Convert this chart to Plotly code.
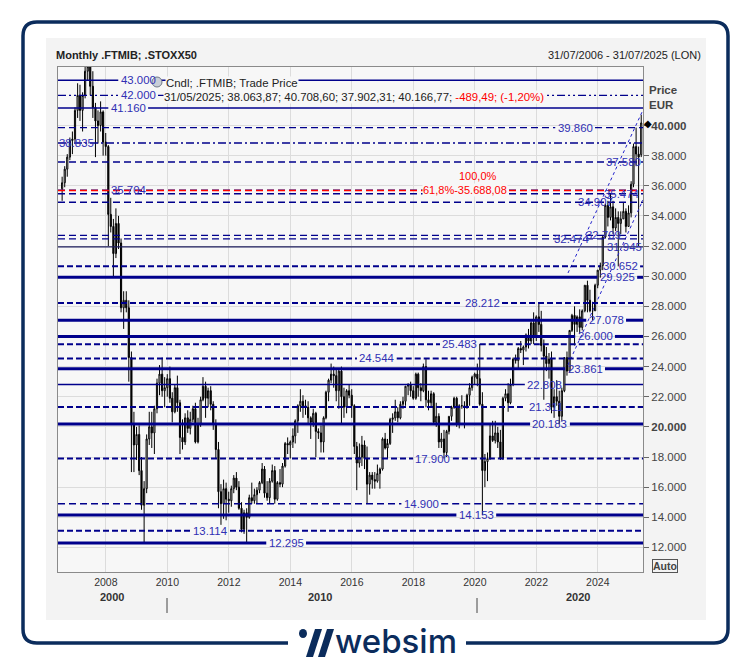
import pandas as pd
import plotly.graph_objects as go

W, H = 752, 668

# ---------------------------------------------------------------------------
# Data: .FTMIB monthly candles, thousands of points, Jul 2006 - May 2025
# ---------------------------------------------------------------------------
dates = pd.date_range("2006-07-01", periods=227, freq="MS") + pd.offsets.MonthEnd(0)

opens = [
    35.8, 36.2, 37.1, 37.9, 39.0, 39.1,
    41.0, 42.0, 41.0, 42.0, 43.6, 43.9, 42.6, 41.2, 40.3, 40.0, 40.9, 38.9,
    38.6, 34.1, 33.3, 31.5, 33.5, 32.2, 27.9, 28.4, 27.9, 24.6, 20.2, 18.8,
    19.5, 17.1, 14.8, 15.9, 19.2, 20.0, 19.6, 21.2, 22.9, 23.5, 22.4, 22.6,
    23.2, 21.9, 21.0, 22.6, 21.6, 19.3, 19.0, 20.6, 19.9, 20.5, 21.2, 19.0,
    20.2, 21.8, 22.7, 21.9, 22.4, 21.5, 20.2, 18.5, 15.7, 14.9, 15.9, 15.2,
    15.1, 15.9, 16.6, 16.0, 14.6, 13.2, 14.3, 14.0, 15.3, 15.1, 15.5, 15.8,
    16.3, 17.2, 15.6, 15.3, 16.4, 17.1, 15.2, 16.3, 16.2, 17.4, 18.9, 18.8,
    19.0, 19.4, 20.4, 21.4, 21.7, 21.4, 21.3, 20.6, 20.3, 20.9, 19.7, 19.6,
    19.0, 20.6, 22.3, 23.1, 23.5, 23.4, 22.4, 23.7, 22.0, 21.3, 22.4, 22.1,
    21.4, 18.7, 17.6, 18.0, 18.8, 17.9, 16.2, 16.8, 16.5, 16.4, 16.9, 17.2,
    19.2, 18.6, 18.9, 20.5, 20.6, 21.0, 20.6, 21.5, 21.7, 22.7, 22.8, 22.4,
    21.9, 23.5, 22.6, 22.4, 24.0, 21.8, 21.6, 22.2, 20.3, 20.7, 19.0, 19.2,
    18.3, 19.7, 20.7, 21.3, 21.9, 20.2, 21.4, 21.4, 21.3, 22.1, 22.6, 23.3,
    23.5, 23.2, 21.5, 17.1, 17.7, 17.9, 19.4, 19.1, 19.6, 19.0, 17.9, 21.9,
    22.2, 21.6, 22.8, 24.5, 24.4, 25.2, 25.1, 25.3, 26.1, 25.7, 26.9, 26.0,
    27.3, 26.8, 25.4, 24.7, 24.2, 24.5, 21.3, 22.0, 21.7, 20.7, 22.4, 24.6,
    23.7, 26.4, 27.4, 26.8, 27.3, 26.6, 27.7, 29.4, 28.4, 27.7, 27.7, 29.4,
    30.4, 30.7, 32.6, 34.7, 33.9, 34.6, 33.2, 33.9, 33.5, 33.8, 34.3, 33.3,
    34.2, 36.1, 38.6, 38.1, 38.064,
]
highs = [
    36.6, 37.3, 38.1, 39.2, 39.6, 41.2,
    42.8, 42.7, 42.2, 43.9, 44.4, 44.0, 43.6, 41.5, 41.0, 41.6, 41.0, 39.5,
    38.7, 35.2, 33.8, 34.5, 34.0, 32.5, 29.0, 29.0, 28.4, 25.0, 21.0, 20.0,
    20.1, 18.0, 16.4, 19.5, 21.0, 21.0, 21.4, 23.2, 24.1, 24.6, 23.3, 23.5,
    24.0, 22.3, 22.8, 23.4, 21.8, 20.5, 20.9, 21.1, 21.0, 21.4, 21.6, 20.6,
    22.0, 23.3, 23.0, 22.6, 22.7, 21.7, 20.5, 19.0, 16.2, 16.5, 16.3, 15.7,
    16.1, 16.8, 17.0, 16.4, 15.0, 14.5, 14.6, 15.5, 16.3, 15.9, 16.0, 16.4,
    17.6, 17.4, 16.4, 16.6, 17.5, 17.4, 16.4, 17.2, 17.6, 19.0, 19.3, 19.1,
    19.9, 20.5, 21.5, 22.5, 22.1, 21.8, 21.7, 20.7, 21.2, 21.0, 19.9, 20.1,
    20.7, 22.4, 23.2, 24.2, 24.0, 23.8, 23.8, 24.0, 22.6, 22.5, 22.8, 22.5,
    21.5, 19.0, 18.9, 19.4, 19.1, 18.7, 17.0, 17.0, 17.0, 17.5, 17.3, 19.3,
    19.6, 19.2, 20.6, 20.9, 21.8, 21.3, 21.7, 22.0, 22.7, 22.9, 23.0, 22.7,
    23.6, 23.6, 22.9, 24.2, 24.5, 22.4, 22.4, 22.3, 21.6, 20.9, 19.6, 19.8,
    19.8, 20.7, 21.4, 22.0, 22.0, 21.5, 22.1, 21.7, 22.2, 22.9, 23.4, 23.6,
    24.2, 25.5, 22.3, 18.2, 18.3, 20.2, 20.4, 20.4, 20.0, 19.8, 22.0, 22.5,
    22.9, 23.2, 24.6, 24.8, 25.3, 25.7, 25.4, 26.2, 26.5, 27.0, 27.6, 27.4,
    28.2, 27.7, 25.8, 25.3, 24.9, 25.0, 22.5, 23.1, 22.4, 22.6, 24.6, 25.0,
    26.4, 27.5, 28.0, 27.4, 27.8, 27.8, 29.4, 29.7, 29.1, 28.3, 29.5, 30.4,
    30.9, 32.7, 34.8, 35.0, 35.47, 35.0, 34.5, 34.3, 34.3, 34.9, 34.5, 34.7,
    36.3, 38.8, 39.86, 38.6, 40.709,
]
lows = [
    35.0, 35.9, 36.6, 37.7, 38.1, 38.9,
    40.5, 40.3, 39.6, 41.8, 43.0, 42.0, 40.5, 37.9, 38.8, 39.6, 38.0, 38.0,
    32.0, 32.9, 30.0, 31.2, 31.8, 27.6, 26.5, 27.6, 23.0, 17.0, 17.0, 17.8,
    16.8, 14.5, 12.3, 15.6, 18.8, 18.6, 18.2, 20.9, 22.1, 22.0, 21.3, 22.0,
    21.6, 20.3, 20.9, 21.0, 18.2, 18.5, 18.8, 19.6, 19.5, 20.3, 18.9, 18.9,
    20.0, 21.7, 20.6, 21.3, 21.1, 19.8, 17.9, 14.6, 13.5, 13.9, 13.8, 14.3,
    14.7, 15.6, 15.8, 14.5, 13.0, 12.9, 12.3, 13.9, 14.9, 14.9, 14.9, 15.6,
    16.2, 15.3, 15.1, 14.9, 16.3, 14.9, 15.1, 16.0, 16.0, 17.3, 18.2, 17.9,
    18.6, 18.9, 19.6, 21.0, 20.6, 20.8, 20.2, 19.2, 20.0, 18.0, 19.2, 18.3,
    18.3, 20.5, 21.7, 22.9, 22.6, 21.7, 21.2, 20.2, 20.6, 20.9, 21.9, 20.6,
    18.2, 15.8, 17.3, 17.4, 17.2, 14.9, 15.5, 15.9, 15.9, 16.3, 15.9, 17.1,
    18.5, 17.9, 18.8, 19.6, 20.4, 20.3, 20.5, 21.2, 21.4, 22.1, 22.0, 21.8,
    21.8, 22.0, 21.7, 22.3, 21.3, 21.1, 21.3, 20.2, 20.0, 18.6, 18.6, 17.9,
    18.0, 19.5, 20.4, 21.2, 20.0, 19.9, 21.2, 19.9, 21.2, 21.4, 22.4, 22.8,
    22.7, 21.4, 14.15, 16.0, 16.4, 17.8, 19.0, 18.9, 18.6, 17.8, 17.8, 21.7,
    21.0, 21.5, 22.7, 24.2, 23.8, 24.9, 24.1, 25.0, 25.2, 25.5, 25.5, 25.7,
    26.3, 25.0, 21.8, 23.7, 23.2, 20.9, 20.6, 21.4, 20.2, 20.4, 22.3, 23.4,
    23.7, 26.3, 25.4, 26.3, 26.2, 26.4, 27.6, 27.6, 27.6, 27.08, 27.7, 29.2,
    29.9, 30.4, 32.5, 33.3, 33.7, 32.8, 33.0, 30.65, 32.8, 33.8, 32.9, 33.3,
    33.9, 35.9, 37.3, 31.945, 37.902,
]
closes = [
    36.2, 37.1, 37.9, 39.0, 39.1, 41.0,
    42.0, 41.0, 42.0, 43.6, 43.9, 42.6, 41.2, 40.3, 40.0, 40.9, 38.9, 38.6,
    34.1, 33.3, 31.5, 33.5, 32.2, 27.9, 28.4, 27.9, 24.6, 20.2, 18.8, 19.5,
    17.1, 14.8, 15.9, 19.2, 20.0, 19.6, 21.2, 22.9, 23.5, 22.4, 22.6, 23.2,
    21.9, 21.0, 22.6, 21.6, 19.3, 19.0, 20.6, 19.9, 20.5, 21.2, 19.0, 20.2,
    21.8, 22.7, 21.9, 22.4, 21.5, 20.2, 18.5, 15.7, 14.9, 15.9, 15.2, 15.1,
    15.9, 16.6, 16.0, 14.6, 13.2, 14.3, 14.0, 15.3, 15.1, 15.5, 15.8, 16.3,
    17.2, 15.6, 15.3, 16.4, 17.1, 15.2, 16.3, 16.2, 17.4, 18.9, 18.8, 19.0,
    19.4, 20.4, 21.4, 21.7, 21.4, 21.3, 20.6, 20.3, 20.9, 19.7, 19.6, 19.0,
    20.6, 22.3, 23.1, 23.5, 23.4, 22.4, 23.7, 22.0, 21.3, 22.4, 22.1, 21.4,
    18.7, 17.6, 18.0, 18.8, 17.9, 16.2, 16.8, 16.5, 16.4, 16.9, 17.2, 19.2,
    18.6, 18.9, 20.5, 20.6, 21.0, 20.6, 21.5, 21.7, 22.7, 22.8, 22.4, 21.9,
    23.5, 22.6, 22.4, 24.0, 21.8, 21.6, 22.2, 20.3, 20.7, 19.0, 19.2, 18.3,
    19.7, 20.7, 21.3, 21.9, 20.2, 21.4, 21.4, 21.3, 22.1, 22.6, 23.3, 23.5,
    23.2, 21.5, 17.1, 17.7, 17.9, 19.4, 19.1, 19.6, 19.0, 17.9, 21.9, 22.2,
    21.6, 22.8, 24.5, 24.4, 25.2, 25.1, 25.3, 26.1, 25.7, 26.9, 26.0, 27.3,
    26.8, 25.4, 24.7, 24.2, 24.5, 21.3, 22.0, 21.7, 20.7, 22.4, 24.6, 23.7,
    26.4, 27.4, 26.8, 27.3, 26.6, 27.7, 29.4, 28.4, 27.7, 27.7, 29.4, 30.4,
    30.7, 32.6, 34.7, 33.9, 34.6, 33.2, 33.9, 33.5, 33.8, 34.3, 33.3, 34.2,
    36.1, 38.6, 38.1, 37.9, 40.167,
]

# support / resistance levels (thousands)
levels = [43.000, 42.000, 41.160, 39.860, 38.835, 37.580, 35.704, 35.474,
          34.907, 32.709, 32.474, 31.945, 30.652, 29.925, 28.212, 27.078,
          26.000, 25.483, 24.544, 23.861, 22.808, 21.311, 20.183, 17.900,
          14.900, 14.153, 13.114, 12.295]
fib_level = 35.68808

# channel lines
trend_dates = ["2023-01-12", "2025-06-21"]
trend_upper = [30.21, 41.03]
trend_lower = [24.11, 35.06]

price_ticks = [12, 14, 16, 18, 20, 22, 24, 26, 28, 30, 32, 34, 36, 38, 40]

# ---------------------------------------------------------------------------
# Styles
# ---------------------------------------------------------------------------
FONT = "Tahoma, 'Liberation Sans', Arial, sans-serif"
NAVY = "#00008c"
LBL = "#3030b4"
FRAME = "#0b2c5c"
PANEL_BG = "#f3f3f3"
PLOT_BG = "#f7f7f7"
GRID = "#dcdcdc"
GAP = 0.068   # gap left in a level line around its label (fraction of width)

LINE_KIND = {
    "thin":   dict(width=1.4, dash="solid"),
    "thick":  dict(width=3, dash="solid"),
    "dash":   dict(width=1.4, dash="7px,4px"),
    "bdash":  dict(width=2, dash="6px,3px"),
    "dd":     dict(width=1.4, dash="8px,3px,2px,3px"),
    "ddd":    dict(width=1.4, dash="8px,3px,2px,3px,2px,3px"),
}
# kind, label x (fraction of plot width), line broken around label
LEVEL_STYLE = [
    ("thin", 0.137, True), ("ddd", 0.137, True), ("thin", 0.120, True),
    ("dash", 0.884, True), ("dd", 0.031, False), ("dash", 0.967, False),
    ("dash", 0.120, False), ("dash", 0.964, False), ("dash", 0.918, False),
    ("dash", 0.933, False), ("dash", 0.877, False), ("thin", 0.969, False),
    ("bdash", 0.961, True), ("thick", 0.956, True), ("bdash", 0.725, True),
    ("thick", 0.937, True), ("thick", 0.918, True), ("bdash", 0.687, True),
    ("bdash", 0.545, True), ("thick", 0.901, True), ("thin", 0.832, True),
    ("bdash", 0.834, True), ("thick", 0.841, True), ("bdash", 0.641, True),
    ("dash", 0.621, True), ("thick", 0.715, True), ("bdash", 0.260, True),
    ("thick", 0.390, True),
]


def px(x):
    return x / W


def py(y):
    return 1 - y / H


fig = go.Figure()

fig.add_trace(go.Candlestick(
    x=dates, open=opens, high=highs, low=lows, close=closes,
    increasing=dict(line=dict(color="#000000", width=1), fillcolor="#ffffff"),
    decreasing=dict(line=dict(color="#000000", width=1), fillcolor="#000000"),
    whiskerwidth=0, showlegend=False, hoverinfo="skip",
))
for ys in (trend_upper, trend_lower):
    fig.add_trace(go.Scatter(
        x=trend_dates, y=ys, mode="lines", showlegend=False, hoverinfo="skip",
        line=dict(color="#2222cc", width=1, dash="dot"),
    ))

shapes = []
# panel behind the chart
shapes.append(dict(type="rect", xref="paper", yref="paper", layer="below",
                   x0=px(46), x1=px(706), y0=py(620), y1=py(38),
                   fillcolor=PANEL_BG, line=dict(width=0)))
shapes.append(dict(type="rect", xref="paper", yref="paper", layer="below",
                   x0=px(58), x1=px(643), y0=py(572), y1=py(67),
                   fillcolor=PLOT_BG, line=dict(width=0)))

# rounded frame, open at the bottom for the logo
pts = [(288, 643), (37, 643), (23, 643), (23, 629), (23, 36), (23, 22), (37, 22),
       (714, 22), (728, 22), (728, 36), (728, 629), (728, 643), (714, 643), (466, 643)]
P = [(px(a), py(b)) for a, b in pts]
d = (f"M{P[0][0]},{P[0][1]} L{P[1][0]},{P[1][1]} Q{P[2][0]},{P[2][1]} {P[3][0]},{P[3][1]} "
     f"L{P[4][0]},{P[4][1]} Q{P[5][0]},{P[5][1]} {P[6][0]},{P[6][1]} "
     f"L{P[7][0]},{P[7][1]} Q{P[8][0]},{P[8][1]} {P[9][0]},{P[9][1]} "
     f"L{P[10][0]},{P[10][1]} Q{P[11][0]},{P[11][1]} {P[12][0]},{P[12][1]} "
     f"L{P[13][0]},{P[13][1]}")
shapes.append(dict(type="path", xref="paper", yref="paper", path=d,
                   line=dict(color=FRAME, width=3.5)))

# logo mark
for bar in ([(306, 657), (313, 657), (322, 629), (315, 629)],
            [(318, 657), (325, 657), (334, 629), (327, 629)]):
    q = [(px(a), py(b)) for a, b in bar]
    shapes.append(dict(type="path", xref="paper", yref="paper",
                       path=f"M{q[0][0]},{q[0][1]} L{q[1][0]},{q[1][1]} "
                            f"L{q[2][0]},{q[2][1]} L{q[3][0]},{q[3][1]} Z",
                       fillcolor=FRAME, line=dict(width=0)))
shapes.append(dict(type="circle", xref="paper", yref="paper",
                   x0=px(299), x1=px(307), y0=py(638), y1=py(629),
                   fillcolor=FRAME, line=dict(width=0)))

# level lines (broken around their label where the chart does so)
for lv, (kind, lx, broken) in zip(levels, LEVEL_STYLE):
    col = "#1c1c5c" if lv == 31.945 else NAVY
    spans = [(0, max(0, lx - GAP / 2)), (min(1, lx + GAP / 2), 1)] if broken else [(0, 1)]
    for a, b in spans:
        if b - a <= 0:
            continue
        shapes.append(dict(type="line", xref="x domain", yref="y", x0=a, x1=b,
                           y0=lv, y1=lv, line=dict(color=col, **LINE_KIND[kind])))
shapes.append(dict(type="line", xref="x domain", yref="y", x0=0, x1=1,
                   y0=fib_level, y1=fib_level,
                   line=dict(color="#ff0000", width=1.4, dash="7px,4px")))

# secondary year separators
for xs in (167, 477):
    shapes.append(dict(type="line", xref="paper", yref="paper",
                       x0=px(xs), x1=px(xs), y0=py(598), y1=py(613),
                       line=dict(color="#444", width=1)))

# legend clock icon
shapes.append(dict(type="circle", xref="paper", yref="paper",
                   x0=px(152), x1=px(162), y0=py(87), y1=py(77),
                   fillcolor="#c9ced8", line=dict(color="#707888", width=1)))

ann = []


def text(x, y, s, size=11, color="#222", anchor="left", bg=None, **kw):
    ann.append(dict(x=px(x), y=py(y), xref="paper", yref="paper", text=s,
                    showarrow=False, xanchor=anchor, yanchor="middle",
                    font=dict(family=FONT, size=size, color=color),
                    bgcolor=bg, borderpad=0, **kw))


text(55, 55, "<b>Monthly .FTMIB; .STOXX50</b>", size=11)
text(702, 55, "31/07/2006 - 31/07/2025 (LON)", size=11, anchor="right")
text(648, 90, "<b>Price</b>", size=11.5, color="#444")
text(648, 105, "<b>EUR</b>", size=11.5, color="#444")
text(165, 83, "Cndl; .FTMIB; Trade Price", size=11.4, bg=PLOT_BG)
text(163, 97, "31/05/2025; 38.063,87; 40.708,60; 37.902,31; 40.166,77; "
     "<span style='color:#ff0000'>-489,49; (-1,20%)</span>", size=11.4, bg=PLOT_BG)
text(478, 176, "100,0%", color="#ff0000", anchor="center")
text(465, 190, "61,8%-35.688,08", color="#ff0000", anchor="center", bg=PLOT_BG)
text(648, 123, "◆", size=10, color="#000", anchor="center")
text(665, 566, "<b>Auto</b>", size=10.5, color="#444", anchor="center",
     bordercolor="#555", borderwidth=1)
text(112, 597, "<b>2000</b>", size=11, color="#333", anchor="center")
text(320, 597, "<b>2010</b>", size=11, color="#333", anchor="center")
text(578, 597, "<b>2020</b>", size=11, color="#333", anchor="center")
ann.append(dict(x=px(396), y=py(641), xref="paper", yref="paper", text="websim",
                showarrow=False, xanchor="center", yanchor="middle",
                font=dict(family="Inter", size=33, color=FRAME, weight=500)))

for lv, (_, lx, _) in zip(levels, LEVEL_STYLE):
    ann.append(dict(x=lx, y=lv, xref="x domain", yref="y", text=f"{lv:.3f}",
                    showarrow=False, xanchor="center", yanchor="middle",
                    font=dict(family=FONT, size=11.4, color=LBL)))

tick_text = [f"<b>{v:.3f}</b>" if v in (20, 40) else f"{v:.3f}" for v in price_ticks]

fig.update_layout(
    width=W, height=H,
    margin=dict(l=0, r=0, t=0, b=0),
    paper_bgcolor="#ffffff",
    plot_bgcolor="rgba(0,0,0,0)",
    font=dict(family=FONT, size=11, color="#333"),
    showlegend=False,
    shapes=shapes,
    annotations=ann,
    xaxis=dict(
        domain=[px(58), px(643)], type="date",
        range=["2006-06-12", "2025-06-21"],
        tick0="2008-01-01", dtick="M24", tickformat="%Y",
        showgrid=True, gridcolor=GRID, gridwidth=1,
        showline=True, linecolor="#8a8a8a", linewidth=1, mirror=True,
        ticks="", tickfont=dict(size=10.5, color="#333"),
        rangeslider=dict(visible=False), zeroline=False,
    ),
    yaxis=dict(
        domain=[py(572), py(67)], range=[10.37, 43.88], side="right",
        tickvals=price_ticks, ticktext=tick_text,
        ticks="outside", ticklen=5, tickcolor="#666",
        showgrid=True, gridcolor=GRID, gridwidth=1,
        showline=True, linecolor="#8a8a8a", linewidth=1, mirror=True,
        tickfont=dict(size=11.5, color="#444"), zeroline=False,
    ),
)

# the page body has a default 8px margin; drop it so the figure sits at 0,0
fig.write_html("out.html", config={"displayModeBar": False},
               post_script="document.body.style.margin='0px';")
